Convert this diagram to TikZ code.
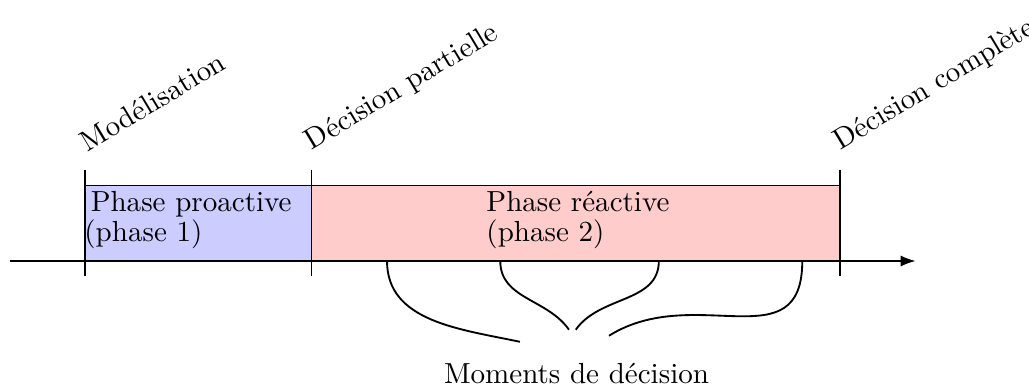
\documentclass[tikz,border=0pt,11pt]{standalone}
\usetikzlibrary{arrows.meta}
\begin{document}
\begin{tikzpicture}[
  phasebox/.style={draw=black, line width=0.5pt},
  tickline/.style={line width=0.6pt},
  ticktop/.style={anchor=base west, inner sep=0pt, rotate=31},
  boxtext/.style={anchor=north west, inner sep=0pt, align=left},
  bracecurve/.style={line width=0.7pt}
]
\useasboundingbox (-0.126,-1.695) rectangle (13.503,3.457);
% phase boxes
\fill[blue!20] (1,0) rectangle (4,1);
\fill[red!20] (4,0) rectangle (11,1);
\draw[phasebox] (1,1) -- (11,1);
% axis
\coordinate (axs) at (0,0);
\coordinate (axe) at (12,0);
\draw[tickline,-{Latex[length=5.6pt,width=4.2pt]}] (axs) -- (axe);
% ticks
\foreach \x/\n in {1/t1,4/t2,11/t3}{
  \coordinate (\n b) at (\x,-0.2);
  \coordinate (\n t) at (\x,1.2);
  \draw[tickline] (\n b) -- (\n t);
}
% tick labels
\node[ticktop] (lab1) at (1.03,1.44) {Modélisation};
\node[ticktop] (lab2) at (4.00,1.46) {Décision partielle};
\node[ticktop] (lab3) at (11.00,1.46) {Décision complète};
% box texts
\node[boxtext] (p1) at (0.985,0.925) {\hspace{2.4pt}Phase proactive\\[-2.5pt](phase 1)};
\node[boxtext] (p2) at (6.31,0.93) {Phase réactive\\[-2.5pt](phase 2)};
% decision moments
\coordinate (m1) at (5.0,0);
\coordinate (m2) at (6.5,0);
\coordinate (m3) at (8.6,0);
\coordinate (m4) at (10.5,0);
\coordinate (e1) at (6.76,-1.07);
\coordinate (e2) at (7.41,-0.91);
\coordinate (e3) at (7.50,-0.91);
\coordinate (e4) at (7.94,-0.99);
\draw[bracecurve] (m1) to[out=-90,in=168] (e1);
\draw[bracecurve] (m2) to[out=-90,in=125] (e2);
\draw[bracecurve] (m3) to[out=-90,in=55] (e3);
\draw[bracecurve] (m4) to[out=-90,in=32,looseness=1.25] (e4);
\node[anchor=base] (md) at (7.51,-1.62) {Moments de décision};
\end{tikzpicture}
\end{document}
